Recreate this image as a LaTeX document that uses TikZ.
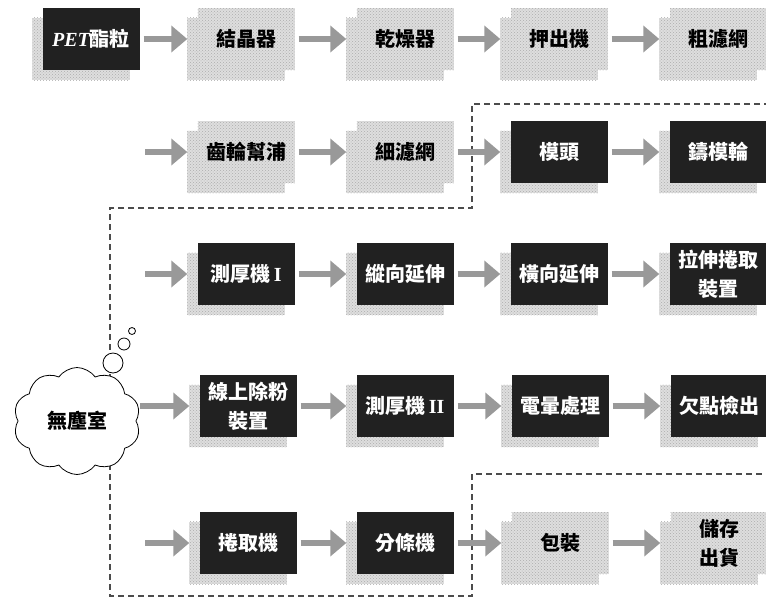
\documentclass[tikz,border=0pt]{standalone}
\usepackage{fontspec}
\newfontfamily\cjk{Noto Sans CJK TC}
\newfontfamily\serif{Liberation Serif}
\usetikzlibrary{arrows.meta,shapes.symbols,patterns,backgrounds}
\tikzset{
  lightfill/.style={preaction={fill=black!13}, pattern=crosshatch dots, pattern color=black!32},
  core/.style={rectangle, minimum width=97pt, minimum height=62pt, inner sep=1pt, align=center,
    font=\cjk\bfseries\fontsize{20}{29}\selectfont},
  darkbox/.style={core, fill=black!87, text=white},
  lightbox/.style={core, lightfill, text=black},
  flow/.style={line width=6pt, draw=black!40, shorten <=4pt,
    -{Triangle[length=16pt,width=26pt]}},
  boundary/.style={draw=black!70, line width=1.3pt, dash pattern=on 6pt off 4pt},
  bubble/.style={circle, draw=black, fill=white, line width=0.8pt, inner sep=0pt}
}
\begin{document}
\begin{tikzpicture}[x=1pt,y=-1pt]
\useasboundingbox (0,0) rectangle (766,598);

% clean-room boundary
\draw[boundary] (770,104) -- (472,104) -- (472,208) -- (110,208) -- (110,596)
  -- (472,596) -- (472,474) -- (770,474);

% row 1
\node[darkbox] (p1) at (91,39) {{\serif\itshape PET}酯粒};
\node[lightbox] (a1) at (246,39) {結晶器};
\node[lightbox] (a2) at (405,39) {乾燥器};
\node[lightbox] (a3) at (559,39) {押出機};
\node[lightbox] (a4) at (718,39) {粗濾網};
% row 2
\node[lightbox] (b1) at (246,152) {齒輪幫浦};
\node[lightbox] (b2) at (405,152) {細濾網};
\node[darkbox] (b3) at (559,152) {模頭};
\node[darkbox] (b4) at (718,152) {鑄模輪};
% row 3
\node[darkbox] (c1) at (246,274) {測厚機{\serif\bfseries\,I}};
\node[darkbox] (c2) at (405,274) {縱向延伸};
\node[darkbox] (c3) at (559,274) {橫向延伸};
\node[darkbox] (c4) at (718,274) {拉伸捲取\\裝置};
% row 4
\node[darkbox] (d1) at (248,406) {線上除粉\\裝置};
\node[darkbox] (d2) at (405,406) {測厚機{\serif\bfseries\,II}};
\node[darkbox] (d3) at (560,406) {電暈處理};
\node[darkbox] (d4) at (719,406) {欠點檢出};
% row 5
\node[darkbox] (e1) at (248,543) {捲取機};
\node[darkbox] (e2) at (405,543) {分條機};
\node[lightbox] (e3) at (560,543) {包裝};
\node[lightbox] (e4) at (719,543) {儲存\\出貨};

% shadows
\begin{scope}[on background layer]
\foreach \n in {p1,a1,a2,a3,a4,b1,b2,b3,b4,c1,c2,c3,c4,d1,d2,d3,d4,e1,e2,e3,e4}
  \fill[lightfill] ([shift={(-10pt,-10pt)}]\n.north west) rectangle ([shift={(-10pt,-10pt)}]\n.south east);
\end{scope}

% cloud
\node[cloud, cloud puffs=10, cloud puff arc=110, cloud ignores aspect, minimum width=127pt, minimum height=107pt,
  draw=black, fill=white, line width=0.8pt, inner sep=0pt,
  font=\cjk\bfseries\fontsize{20}{24}\selectfont] (room) at (77,421) {無塵室};
\node[bubble, minimum size=20pt] (bb1) at (113,363) {};
\node[bubble, minimum size=12pt] (bb2) at (124,344) {};
\node[bubble, minimum size=7pt] (bb3) at (132,331) {};

% start coordinates
\coordinate (s2) at (141,152);
\coordinate (s3) at (141,274);
\coordinate (s5) at (141,543);

% arrows
\draw[flow] (p1.east) -- ([xshift=-10pt]a1.west);
\draw[flow] (a1.east) -- ([xshift=-10pt]a2.west);
\draw[flow] (a2.east) -- ([xshift=-10pt]a3.west);
\draw[flow] (a3.east) -- ([xshift=-10pt]a4.west);

\draw[flow] (s2) -- ([xshift=-10pt]b1.west);
\draw[flow] (b1.east) -- ([xshift=-10pt]b2.west);
\draw[flow] (b2.east) -- ([xshift=-10pt]b3.west);
\draw[flow] (b3.east) -- ([xshift=-10pt]b4.west);

\draw[flow] (s3) -- ([xshift=-10pt]c1.west);
\draw[flow] (c1.east) -- ([xshift=-10pt]c2.west);
\draw[flow] (c2.east) -- ([xshift=-10pt]c3.west);
\draw[flow] (c3.east) -- ([xshift=-10pt]c4.west);

\draw[flow] (room.east |- d1.west) -- ([xshift=-10pt]d1.west);
\draw[flow] (d1.east) -- ([xshift=-10pt]d2.west);
\draw[flow] (d2.east) -- ([xshift=-10pt]d3.west);
\draw[flow] (d3.east) -- ([xshift=-10pt]d4.west);

\draw[flow] (s5) -- ([xshift=-10pt]e1.west);
\draw[flow] (e1.east) -- ([xshift=-10pt]e2.west);
\draw[flow] (e2.east) -- ([xshift=-10pt]e3.west);
\draw[flow] (e3.east) -- ([xshift=-10pt]e4.west);
\end{tikzpicture}
\end{document}
